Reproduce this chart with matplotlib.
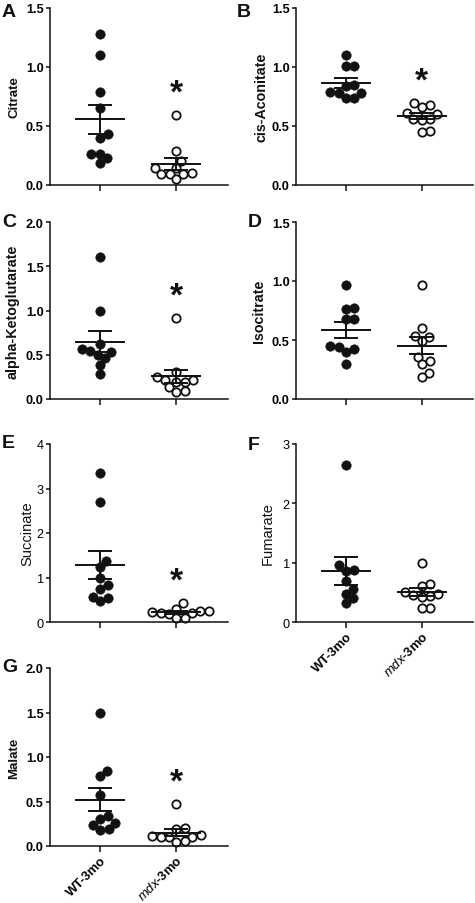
import numpy as np
import matplotlib
matplotlib.use("Agg")
import matplotlib.pyplot as plt
from matplotlib.ticker import FormatStrFormatter, MultipleLocator

plt.rcParams['font.family'] = ['Liberation Sans', 'DejaVu Sans']
plt.rcParams['mathtext.fontset'] = 'custom'
plt.rcParams['mathtext.it'] = 'Liberation Sans:italic'
plt.rcParams['mathtext.rm'] = 'Liberation Sans'
plt.rcParams['mathtext.bf'] = 'Liberation Sans:bold'

# values (10 animals per group, F WT has 9)
group_labels = ['WT-3mo', r'$\mathit{mdx}$-3mo']

citrate_wt = [1.28, 1.10, 0.79, 0.65, 0.43, 0.40, 0.26, 0.26, 0.225, 0.185]
citrate_mdx = [0.595, 0.285, 0.20, 0.145, 0.14, 0.10, 0.095, 0.095, 0.09, 0.05]
aconitate_wt = [1.105, 1.005, 1.005, 0.85, 0.84, 0.79, 0.78, 0.78, 0.74, 0.74]
aconitate_mdx = [0.695, 0.68, 0.665, 0.61, 0.60, 0.56, 0.56, 0.55, 0.455, 0.45]
akg_wt = [1.60, 1.00, 0.62, 0.57, 0.545, 0.535, 0.50, 0.46, 0.385, 0.28]
akg_mdx = [0.91, 0.30, 0.245, 0.215, 0.215, 0.195, 0.195, 0.13, 0.085, 0.08]
isocitrate_wt = [0.97, 0.775, 0.765, 0.675, 0.675, 0.45, 0.44, 0.425, 0.40, 0.30]
isocitrate_mdx = [0.965, 0.60, 0.535, 0.525, 0.49, 0.36, 0.32, 0.295, 0.22, 0.19]
succinate_wt = [3.35, 2.70, 1.37, 1.24, 1.00, 0.83, 0.75, 0.56, 0.53, 0.47]
succinate_mdx = [0.43, 0.30, 0.24, 0.24, 0.22, 0.20, 0.20, 0.19, 0.10, 0.08]
fumarate_wt = [2.65, 0.955, 0.875, 0.865, 0.695, 0.555, 0.48, 0.40, 0.32]
fumarate_mdx = [0.99, 0.64, 0.61, 0.51, 0.47, 0.46, 0.44, 0.42, 0.24, 0.23]
malate_wt = [1.50, 0.84, 0.79, 0.575, 0.34, 0.30, 0.255, 0.235, 0.19, 0.185]
malate_mdx = [0.47, 0.205, 0.19, 0.12, 0.11, 0.105, 0.10, 0.10, 0.06, 0.05]

panel_letters = ['A', 'B', 'C', 'D', 'E', 'F', 'G']
metabolites = ['Citrate', 'cis-Aconitate', 'alpha-Ketoglutarate', 'Isocitrate',
               'Succinate', 'Fumarate', 'Malate']
wt_values = [citrate_wt, aconitate_wt, akg_wt, isocitrate_wt, succinate_wt, fumarate_wt, malate_wt]
mdx_values = [citrate_mdx, aconitate_mdx, akg_mdx, isocitrate_mdx, succinate_mdx, fumarate_mdx, malate_mdx]
y_max = [1.5, 1.5, 2.0, 1.5, 4, 3, 2.0]
y_step = [0.5, 0.5, 0.5, 0.5, 1, 1, 0.5]
significant = [True, True, True, False, True, False, True]

W, H = 475, 904
INK = '#111111'

# layout in pixels: (axis left, axis top, width, height, letter x, letter y, ylabel x)
layout = [
    (50, 9, 178, 177, 2, 4, 14),
    (296, 9, 177, 177, 237, 4, 261),
    (50, 223, 178, 177, 2, 214, 13),
    (296, 223, 177, 177, 248, 214, 259),
    (50, 445, 178, 178, 2, 435, 27),
    (296, 445, 177, 178, 248, 437, 268),
    (50, 669, 178, 178, 2, 659, 14),
]
bold_panel = [True, True, True, True, False, False, True]
label_size = [9.5, 10.3, 10.3, 10.3, 10.5, 10.5, 9.5]

fig = plt.figure(figsize=(W / 100, H / 100), dpi=100)


def swarm(ax, values, x0, diam):
    pts = ax.transData.transform(np.column_stack([np.full(len(values), x0), values]))
    ys = pts[:, 1]
    order = np.argsort(ys)
    placed = []
    offs = np.zeros(len(values))
    steps = np.arange(0, 80, 0.25)
    for i in order:
        y = ys[i]
        chosen = 0.0
        for c in steps:
            ok_side = None
            for s in ([0.0] if c == 0 else [c, -c]):
                if all((s - px) ** 2 + (y - py) ** 2 >= diam ** 2 for px, py in placed):
                    ok_side = s
                    break
            if ok_side is not None:
                chosen = ok_side
                break
        placed.append((chosen, y))
        offs[i] = chosen
    x_scale = ax.transData.transform([[1, 0]])[0, 0] - ax.transData.transform([[0, 0]])[0, 0]
    return x0 + offs / x_scale


for k in range(7):
    left, top, w, h, lx, ly, ylx = layout[k]
    ax = fig.add_axes([left / W, 1 - (top + h) / H, w / W, h / H])
    ax.set_xlim(-0.66, 1.68)
    ax.set_ylim(0, y_max[k])
    for side in ['top', 'right']:
        ax.spines[side].set_visible(False)
    for side in ['left', 'bottom']:
        ax.spines[side].set_linewidth(1.1)
        ax.spines[side].set_color(INK)

    weight = 'bold' if bold_panel[k] else 'normal'
    ax.yaxis.set_major_locator(MultipleLocator(y_step[k]))
    ax.yaxis.set_major_formatter(FormatStrFormatter('%.1f' if y_step[k] < 1 else '%d'))
    ax.tick_params(axis='y', length=3, width=1.1, color=INK, pad=1.5, labelsize=9.2)
    ax.tick_params(axis='x', length=4.5, width=1.1, color=INK, pad=1)
    for t in ax.get_yticklabels():
        t.set_fontweight(weight)
    ax.set_xticks([0, 1])
    if k in (5, 6):
        ax.set_xticklabels(group_labels, rotation=45, ha='right', rotation_mode='anchor',
                           fontsize=9.4, fontweight='bold')
    else:
        ax.set_xticklabels([])

    for g, (vals, filled) in enumerate([(wt_values[k], True), (mdx_values[k], False)]):
        vals = np.array(vals)
        xs = swarm(ax, vals, g, 8.4)
        if filled:
            ax.plot(xs, vals, 'o', ms=6.8, mfc=INK, mec=INK, mew=0.4, zorder=2, clip_on=False)
        else:
            ax.plot(xs, vals, 'o', ms=6.0, mfc='white', mec=INK, mew=1.3, zorder=2, clip_on=False)
        m = vals.mean()
        sem = vals.std(ddof=1) / np.sqrt(len(vals))
        ax.plot([g - 0.33, g + 0.33], [m, m], color=INK, lw=1.4, zorder=3, solid_capstyle='butt')
        ax.plot([g, g], [m - sem, m + sem], color=INK, lw=1.4, zorder=3)
        for yb in (m - sem, m + sem):
            ax.plot([g - 0.16, g + 0.16], [yb, yb], color=INK, lw=1.4, zorder=3,
                    solid_capstyle='butt')

    if significant[k]:
        ystar = max(mdx_values[k]) + 0.125 * y_max[k]
        ax.text(1, ystar, '*', ha='center', va='center', fontsize=24, fontweight='bold',
                color=INK, transform=ax.transData)

    ax.text((ylx - left) / w, 0.5, metabolites[k], transform=ax.transAxes, rotation=90,
            ha='center', va='center', fontsize=label_size[k], fontweight=weight, color=INK)
    fig.text(lx / W, 1 - ly / H, panel_letters[k], ha='left', va='top', fontsize=14,
             fontweight='bold', color=INK)

fig.savefig('out.png', dpi=100, facecolor='white')
